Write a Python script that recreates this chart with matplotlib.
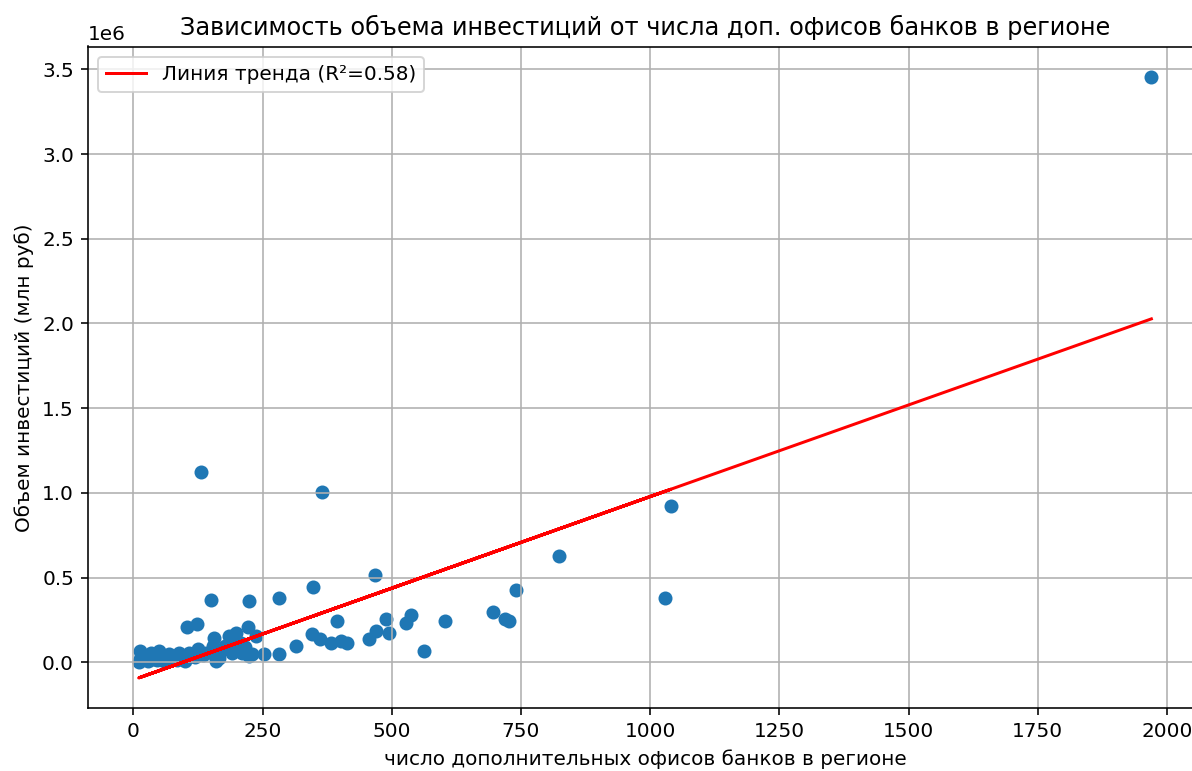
import numpy as np
import matplotlib
matplotlib.use("Agg")
import matplotlib.pyplot as plt

plt.rcParams['font.family'] = ['DejaVu Sans']

# number of additional bank offices in region
offices = [
    1970, 131, 364, 1040, 823, 468, 347, 740, 1029, 282, 151, 224,
    696, 720, 727, 603, 537, 528, 489, 495, 469, 456, 562, 393, 345, 361,
    382, 402, 413, 314, 282, 252, 103, 123, 155, 222,
    185, 198, 237, 208, 178, 153, 165, 191, 211, 224, 13, 13, 33, 49, 68,
    88, 107, 124, 140, 153, 20, 40, 55, 75, 95, 115, 135, 170, 200, 215,
    230, 10, 28, 45, 60, 85, 100, 160, 120, 190,
]
# investment volume, million rubles
investments = [
    3457000, 1122000, 1004000, 920000, 625000, 515000, 444000, 426000, 377000, 377000, 367000, 360000,
    299000, 255000, 243000, 242000, 279000, 232000, 253000, 173000, 185000, 140000, 65000, 244000, 169000, 140000,
    116000, 124000, 113000, 96000, 47000, 51000, 207000, 229000, 146000, 208000,
    155000, 171000, 155000, 116000, 96000, 57000, 25000, 57000, 57000, 37000, 67000, 18000, 57000, 67000, 47000,
    57000, 57000, 77000, 57000, 96000, 30000, 20000, 30000, 20000, 25000, 40000, 45000, 70000, 80000, 90000,
    50000, 5000, 10000, 12000, 8000, 15000, 10000, 10000, 30000, 120000,
]
r2_text = "0.58"

x = np.array(offices, dtype=float)
y = np.array(investments, dtype=float)
slope, intercept = np.polyfit(x, y, 1)
y_pred = slope * x + intercept

W, H, DPI = 1192, 771, 144
fig = plt.figure(figsize=(W / DPI, H / DPI), dpi=DPI)
ax = fig.add_axes([88 / W, 63 / H, 1114 / W, 661.5 / H])

ax.scatter(x, y)
ax.plot(x, y_pred, color='red', label=f'Линия тренда (R²={r2_text})')
ax.set_title('Зависимость объема инвестиций от числа доп. офисов банков в регионе')
ax.set_xlabel('число дополнительных офисов банков в регионе')
ax.set_ylabel('Объем инвестиций (млн руб)')
ax.legend(loc='upper left')
ax.grid(True)

fig.savefig('out.png', dpi=DPI)
